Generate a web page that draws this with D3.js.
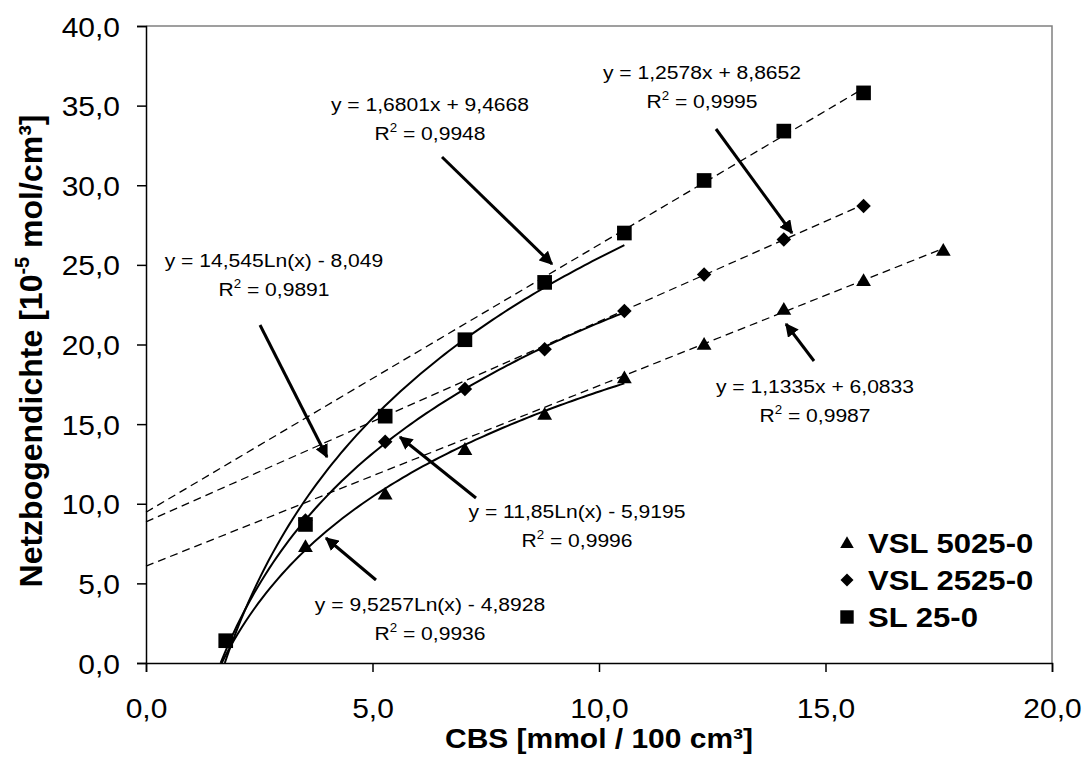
<!DOCTYPE html>
<html>
<head>
<meta charset="utf-8">
<script src="https://cdn.jsdelivr.net/npm/d3@7"></script>
<style>
  body { margin: 0; background: #fff; }
  svg text { font-family: Arial, "Liberation Sans", sans-serif; fill: #000; }
</style>
</head>
<body>
<div id="chart"></div>
<script>
// CBS values (x) shared by all series
const cbs = [1.76, 3.52, 5.28, 7.04, 8.80, 10.56, 12.32, 14.08, 15.84, 17.60];

// measured Netzbogendichte values
const sl25 = [1.4, 8.7, 15.5, 20.3, 23.9, 27.0, 30.3, 33.4, 35.8];
const vsl2525 = [null, 8.95, 13.9, 17.2, 19.7, 22.1, 24.4, 26.6, 28.7];
const vsl5025 = [null, 7.3, 10.6, 13.4, 15.6, 17.9, 20.0, 22.2, 24.0, 25.9];

// trendline coefficients
const logFits = [ // a*ln(x) + b, drawn up to the 6th point
  {a: 9.5257, b: -4.8928, xmax: 10.56},
  {a: 11.85, b: -5.9195, xmax: 10.56},
  {a: 14.545, b: -8.049, xmax: 10.56}
];
const linFits = [ // m*x + c, backward to x = 0
  {m: 1.1335, c: 6.0833, xmax: 17.60},
  {m: 1.2578, c: 8.8652, xmax: 15.84},
  {m: 1.6801, c: 9.4668, xmax: 15.84}
];

const labels = [
  {l1: "y = 1,6801x + 9,4668", r2: "0,9948", x: 430, y: 111, ax1: 442, ay1: 157, ax2: 552, ay2: 264},
  {l1: "y = 1,2578x + 8,8652", r2: "0,9995", x: 702, y: 79, ax1: 716, ay1: 129, ax2: 792, ay2: 233},
  {l1: "y = 14,545Ln(x) - 8,049", r2: "0,9891", x: 274, y: 267, ax1: 260, ay1: 325, ax2: 327, ay2: 457},
  {l1: "y = 11,85Ln(x) - 5,9195", r2: "0,9996", x: 577, y: 518, ax1: 476, ay1: 498, ax2: 400, ay2: 437},
  {l1: "y = 9,5257Ln(x) - 4,8928", r2: "0,9936", x: 430, y: 611, ax1: 376, ay1: 580, ax2: 326, ay2: 538},
  {l1: "y = 1,1335x + 6,0833", r2: "0,9987", x: 815, y: 393, ax1: 814, ay1: 361, ax2: 786, ay2: 324}
];

const legendNames = ["VSL 5025-0", "VSL 2525-0", "SL 25-0"];
const xTicks = [0, 5, 10, 15, 20];
const yTicks = [0, 5, 10, 15, 20, 25, 30, 35, 40];

const W = 1085, H = 763;
const SX = 1.11; // text in the original is slightly wide

const svg = d3.select("#chart").append("svg")
  .attr("width", W).attr("height", H);

const x = d3.scaleLinear().domain([0, 20]).range([146, 1052]);
const y = d3.scaleLinear().domain([0, 40]).range([663, 26]);
const fmt = d => d3.format(".1f")(d).replace(".", ",");

function stext(g, px, py, str, size, anchor, bold) {
  return g.append("text")
    .attr("transform", `translate(${px},${py}) scale(${SX},1)`)
    .attr("text-anchor", anchor)
    .style("font-size", size + "px")
    .style("font-weight", bold ? "bold" : "normal")
    .text(str);
}

// excel style diamond: a square turned by 45 degrees
const squareDiamond = {
  draw(ctx, size) {
    const r = Math.sqrt(size / 2);
    ctx.moveTo(0, -r); ctx.lineTo(r, 0); ctx.lineTo(0, r); ctx.lineTo(-r, 0); ctx.closePath();
  }
};

// plot border
svg.append("path")
  .attr("d", `M${x(0)},${y(40)}H${x(20)}V${y(0)}`)
  .attr("fill", "none").attr("stroke", "#808080").attr("stroke-width", 1.5);

// axes
const yAxis = svg.append("g").attr("transform", `translate(${x(0)},0)`)
  .call(d3.axisLeft(y).tickValues(yTicks).tickSize(9).tickFormat(fmt));
const xAxis = svg.append("g").attr("transform", `translate(0,${y(0)})`)
  .call(d3.axisBottom(x).tickValues(xTicks).tickSize(9).tickFormat(fmt));
[yAxis, xAxis].forEach(a => {
  a.select(".domain").attr("stroke", "#000").attr("stroke-width", 1.5);
  a.selectAll(".tick line").attr("stroke", "#000").attr("stroke-width", 1.5);
  a.selectAll(".tick text").attr("fill", "#000").style("font-size", "27px")
    .style("font-family", "Arial, 'Liberation Sans', sans-serif");
});
yAxis.selectAll(".tick text").attr("x", null).attr("dy", null)
  .attr("transform", `translate(-26,10) scale(${SX},1)`);
xAxis.selectAll(".tick text").attr("y", null).attr("dy", null)
  .attr("transform", `translate(0,55) scale(${SX},1)`);

// axis titles
stext(svg, 599, 748, "CBS [mmol / 100 cm³]", 27, "middle", true);
const yt = svg.append("text")
  .attr("transform", "translate(42,351) rotate(-90)")
  .attr("text-anchor", "middle")
  .style("font-size", "32px").style("font-weight", "bold");
yt.append("tspan").text("Netzbogendichte [10");
yt.append("tspan").attr("dy", -13).style("font-size", "20px").text("-5");
yt.append("tspan").attr("dy", 13).text(" mol/cm³]");

// dashed linear trendlines
const line = d3.line().x(d => x(d[0])).y(d => y(d[1]));
svg.append("g").selectAll("path").data(linFits).join("path")
  .attr("d", f => line([[0, f.c], [f.xmax, f.m * f.xmax + f.c]]))
  .attr("fill", "none").attr("stroke", "#000")
  .attr("stroke-width", 1.3).attr("stroke-dasharray", "8,5");

// solid logarithmic trendlines, starting where they cross y = 0
svg.append("g").selectAll("path").data(logFits).join("path")
  .attr("d", f => {
    const x0 = Math.exp(-f.b / f.a);
    const pts = d3.range(0, 101).map(i => {
      const xv = x0 + (f.xmax - x0) * i / 100;
      return [xv, f.a * Math.log(xv) + f.b];
    });
    return line(pts);
  })
  .attr("fill", "none").attr("stroke", "#000").attr("stroke-width", 2);

// markers
const sym = {
  tri: d3.symbol().type(d3.symbolTriangle).size(95),
  dia: d3.symbol().type(squareDiamond).size(105),
  sq: d3.symbol().type(d3.symbolSquare).size(215)
};
const seriesList = [
  {vals: vsl5025, s: sym.tri, dy: 1},
  {vals: vsl2525, s: sym.dia, dy: 0},
  {vals: sl25, s: sym.sq, dy: 0}
];
seriesList.forEach(se => {
  const pts = se.vals.map((v, i) => [cbs[i], v]).filter(p => p[1] != null);
  svg.append("g").selectAll("path").data(pts).join("path")
    .attr("d", se.s)
    .attr("transform", p => `translate(${x(p[0])},${y(p[1]) + se.dy})`)
    .attr("fill", "#000");
});

// annotations with arrows
svg.append("defs").append("marker")
  .attr("id", "ah").attr("viewBox", "0 0 10 10")
  .attr("refX", 9).attr("refY", 5)
  .attr("markerWidth", 4.5).attr("markerHeight", 4.5)
  .attr("orient", "auto")
  .append("path").attr("d", "M0,0L10,5L0,10Z").attr("fill", "#000");

labels.forEach(l => {
  svg.append("line")
    .attr("x1", l.ax1).attr("y1", l.ay1).attr("x2", l.ax2).attr("y2", l.ay2)
    .attr("stroke", "#000").attr("stroke-width", 3)
    .attr("marker-end", "url(#ah)");
  stext(svg, l.x, l.y, l.l1, 19, "middle", false);
  const t = svg.append("text")
    .attr("transform", `translate(${l.x},${l.y + 28.5}) scale(${SX},1)`)
    .attr("text-anchor", "middle").style("font-size", "19px");
  t.append("tspan").text("R");
  t.append("tspan").attr("dy", -8).style("font-size", "12px").text("2");
  t.append("tspan").attr("dy", 8).text(" = " + l.r2);
});

// legend
const legSyms = [
  d3.symbol().type(d3.symbolTriangle).size(80),
  d3.symbol().type(squareDiamond).size(85),
  d3.symbol().type(d3.symbolSquare).size(180)
];
legendNames.forEach((name, i) => {
  const cy = 543 + i * 37;
  svg.append("path").attr("d", legSyms[i])
    .attr("transform", `translate(847,${cy + (i === 0 ? 1 : 0)})`).attr("fill", "#000");
  stext(svg, 868, cy + 10, name, 28, "start", true);
});
</script>
</body>
</html>
